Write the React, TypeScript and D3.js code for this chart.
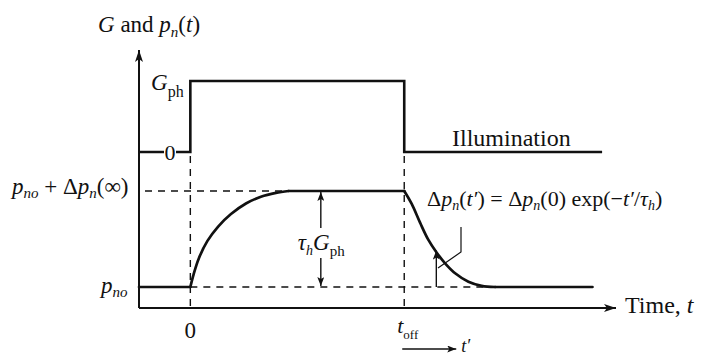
import React from "react";
import * as d3 from "d3";

// Time axis (arbitrary units): light switched on at 0, off at tOff
const tAxis = [-2.4, 19.9];
const tOn = 0;
const tOff = 10;

// Illumination G(t) as a fraction of G_ph
const illumT = [-2.4, 0, 0, 10, 10, 19.25];
const illumG = [0, 0, 1, 1, 0, 0];

// Excess carriers Δp_n as a fraction of Δp_n(∞)
const baseT = [-2.4, 0];
const baseF = [0, 0];
const riseT = [0, 0.15, 0.4, 0.8, 1.3, 1.9, 2.6, 3.3, 4.0, 4.6];
const riseF = [0, 0.13, 0.3, 0.48, 0.63, 0.76, 0.87, 0.94, 0.98, 1.0];
const plateauT = [4.6, 10];
const plateauF = [1, 1];
const decayT = [10, 10.35, 10.74, 11.13, 11.52, 11.91, 12.38, 13.0, 13.62, 14.25];
const decayF = [1, 0.865, 0.67, 0.49, 0.357, 0.247, 0.143, 0.055, 0.012, 0];
const tailT = [14.25, 18.8];
const tailF = [0, 0];

// Markers used by the annotations
const zeroLabelT = -0.95;
const tauArrowT = 6.1;
const decayArrowT = 11.5;
const decayArrowF = 0.38;

const FONT = "'Liberation Serif', 'Times New Roman', serif";

const zip = (ts: number[], vs: number[]) => ts.map((t, i) => [t, vs[i]] as [number, number]);

export default function App() {
  const x = d3.scaleLinear().domain(tAxis).range([139, 616]);
  const yP = d3.scaleLinear().domain([0, 1]).range([287, 191]); // concentration
  const yG = d3.scaleLinear().domain([0, 1]).range([152, 81]); // illumination
  const yAxisBase = 308;

  const straightP = d3
    .line<[number, number]>()
    .x((d) => x(d[0]))
    .y((d) => yP(d[1]));
  const curvedP = d3
    .line<[number, number]>()
    .x((d) => x(d[0]))
    .y((d) => yP(d[1]))
    .curve(d3.curveCatmullRom.alpha(0.5));
  const lineG = d3
    .line<[number, number]>()
    .x((d) => x(d[0]))
    .y((d) => yG(d[1]));

  const x0 = x(tOn);
  const xOff = x(tOff);
  const xTau = x(tauArrowT);
  const xDec = x(decayArrowT);
  const xZero = x(zeroLabelT);

  const pPaths = [
    straightP(zip(baseT, baseF)),
    curvedP(zip(riseT, riseF)),
    straightP(zip(plateauT, plateauF)),
    curvedP(zip(decayT, decayF)),
    straightP(zip(tailT, tailF)),
  ];

  return (
    <svg
      width={702}
      height={355}
      style={{ position: "fixed", left: 0, top: 0, background: "#fff" }}
      fontFamily={FONT}
    >
      <defs>
        <marker id="ah" viewBox="0 0 12 8" refX="12" refY="4" markerWidth="12" markerHeight="8" markerUnits="userSpaceOnUse" orient="auto">
          <path d="M0,0 L12,4 L0,8 L3,4 Z" fill="#111" />
        </marker>
        <marker id="ahs" viewBox="0 0 9 7" refX="9" refY="3.5" markerWidth="9" markerHeight="7" markerUnits="userSpaceOnUse" orient="auto">
          <path d="M0,0 L9,3.5 L0,7 L2,3.5 Z" fill="#111" />
        </marker>
      </defs>

      {/* axes */}
      <line x1={x(tAxis[0])} y1={yAxisBase} x2={x(tAxis[0])} y2={50} stroke="#111" strokeWidth={2} markerEnd="url(#ah)" />
      <line x1={x(tAxis[0])} y1={yAxisBase} x2={x(tAxis[1])} y2={yAxisBase} stroke="#111" strokeWidth={2} markerEnd="url(#ah)" />

      {/* dashed guides */}
      <g stroke="#111" strokeWidth={1.4} strokeDasharray="7,6" fill="none">
        <line x1={x0} y1={yG(0) + 4} x2={x0} y2={yAxisBase} />
        <line x1={xOff} y1={yG(0) + 4} x2={xOff} y2={yAxisBase} />
        <line x1={x(tAxis[0]) + 6} y1={yP(1)} x2={xOff} y2={yP(1)} />
        <line x1={x0} y1={yP(0)} x2={x(14)} y2={yP(0)} />
      </g>

      {/* illumination pulse */}
      <path d={lineG(zip(illumT, illumG)) ?? ""} fill="none" stroke="#111" strokeWidth={2.6} />
      <rect x={xZero - 6} y={yG(0) - 8} width={12} height={16} fill="#fff" />
      <text x={xZero} y={yG(0) + 7.5} fontSize={22} textAnchor="middle" fill="#111">0</text>

      {/* carrier concentration */}
      {pPaths.map((d, i) => (
        <path key={i} d={d ?? ""} fill="none" stroke="#111" strokeWidth={2.7} strokeLinecap="round" />
      ))}

      {/* τh Gph double arrow */}
      <line x1={xTau} y1={228} x2={xTau} y2={yP(1) + 1} stroke="#111" strokeWidth={1.4} markerEnd="url(#ahs)" />
      <line x1={xTau} y1={258} x2={xTau} y2={yP(0) - 1} stroke="#111" strokeWidth={1.4} markerEnd="url(#ahs)" />
      <text x={xTau - 23} y={250} fontSize={23} fill="#111">
        <tspan fontStyle="italic">τ</tspan>
        <tspan fontStyle="italic" fontSize={14} dy={5}>h</tspan>
        <tspan fontStyle="italic" dy={-5}>G</tspan>
        <tspan fontSize={15} dy={6}>ph</tspan>
      </text>

      {/* decay annotation */}
      <line x1={xDec} y1={yP(0)} x2={xDec} y2={yP(decayArrowF)} stroke="#111" strokeWidth={1.4} markerEnd="url(#ahs)" />
      <polyline points={`${461},${227} ${461},${252} ${438},${268}`} fill="none" stroke="#111" strokeWidth={1.2} />
      <text x={427} y={206} fontSize={22} fill="#111">
        <tspan>Δ</tspan>
        <tspan fontStyle="italic">p</tspan>
        <tspan fontStyle="italic" fontSize={14} dy={4}>n</tspan>
        <tspan dy={-4}>(</tspan>
        <tspan fontStyle="italic">t′</tspan>
        <tspan>) = Δ</tspan>
        <tspan fontStyle="italic">p</tspan>
        <tspan fontStyle="italic" fontSize={14} dy={4}>n</tspan>
        <tspan dy={-4}>(0) exp(−</tspan>
        <tspan fontStyle="italic">t′</tspan>
        <tspan>/</tspan>
        <tspan fontStyle="italic">τ</tspan>
        <tspan fontStyle="italic" fontSize={14} dy={4}>h</tspan>
        <tspan dy={-4}>)</tspan>
      </text>

      {/* axis titles and level labels */}
      <text x={98} y={32} fontSize={23} fill="#111">
        <tspan fontStyle="italic">G</tspan>
        <tspan> and </tspan>
        <tspan fontStyle="italic">p</tspan>
        <tspan fontStyle="italic" fontSize={15} dy={5}>n</tspan>
        <tspan dy={-5}>(</tspan>
        <tspan fontStyle="italic">t</tspan>
        <tspan>)</tspan>
      </text>
      <text x={151} y={yG(1) + 9} fontSize={23} fill="#111">
        <tspan fontStyle="italic">G</tspan>
        <tspan fontSize={16} dy={7}>ph</tspan>
      </text>
      <text x={452} y={146} fontSize={24} fill="#111">Illumination</text>
      <text x={12} y={194} fontSize={23} fill="#111">
        <tspan fontStyle="italic">p</tspan>
        <tspan fontStyle="italic" fontSize={15} dy={4}>no</tspan>
        <tspan dy={-4}> + Δ</tspan>
        <tspan fontStyle="italic">p</tspan>
        <tspan fontStyle="italic" fontSize={15} dy={4}>n</tspan>
        <tspan dy={-4}>(∞)</tspan>
      </text>
      <text x={101} y={293} fontSize={23} fill="#111">
        <tspan fontStyle="italic">p</tspan>
        <tspan fontStyle="italic" fontSize={15} dy={4}>no</tspan>
      </text>
      <text x={x0} y={338} fontSize={23} textAnchor="middle" fill="#111">0</text>
      <text x={xOff - 7} y={333} fontSize={22} fill="#111">
        <tspan fontStyle="italic">t</tspan>
        <tspan fontSize={13} dy={6}>off</tspan>
      </text>
      <line x1={xOff - 2} y1={349} x2={xOff + 52} y2={349} stroke="#111" strokeWidth={1.3} markerEnd="url(#ahs)" />
      <text x={xOff + 57} y={352} fontSize={18} fontStyle="italic" fill="#111">t′</text>
      <text x={625} y={313} fontSize={24} fill="#111">
        <tspan>Time, </tspan>
        <tspan fontStyle="italic">t</tspan>
      </text>
    </svg>
  );
}
